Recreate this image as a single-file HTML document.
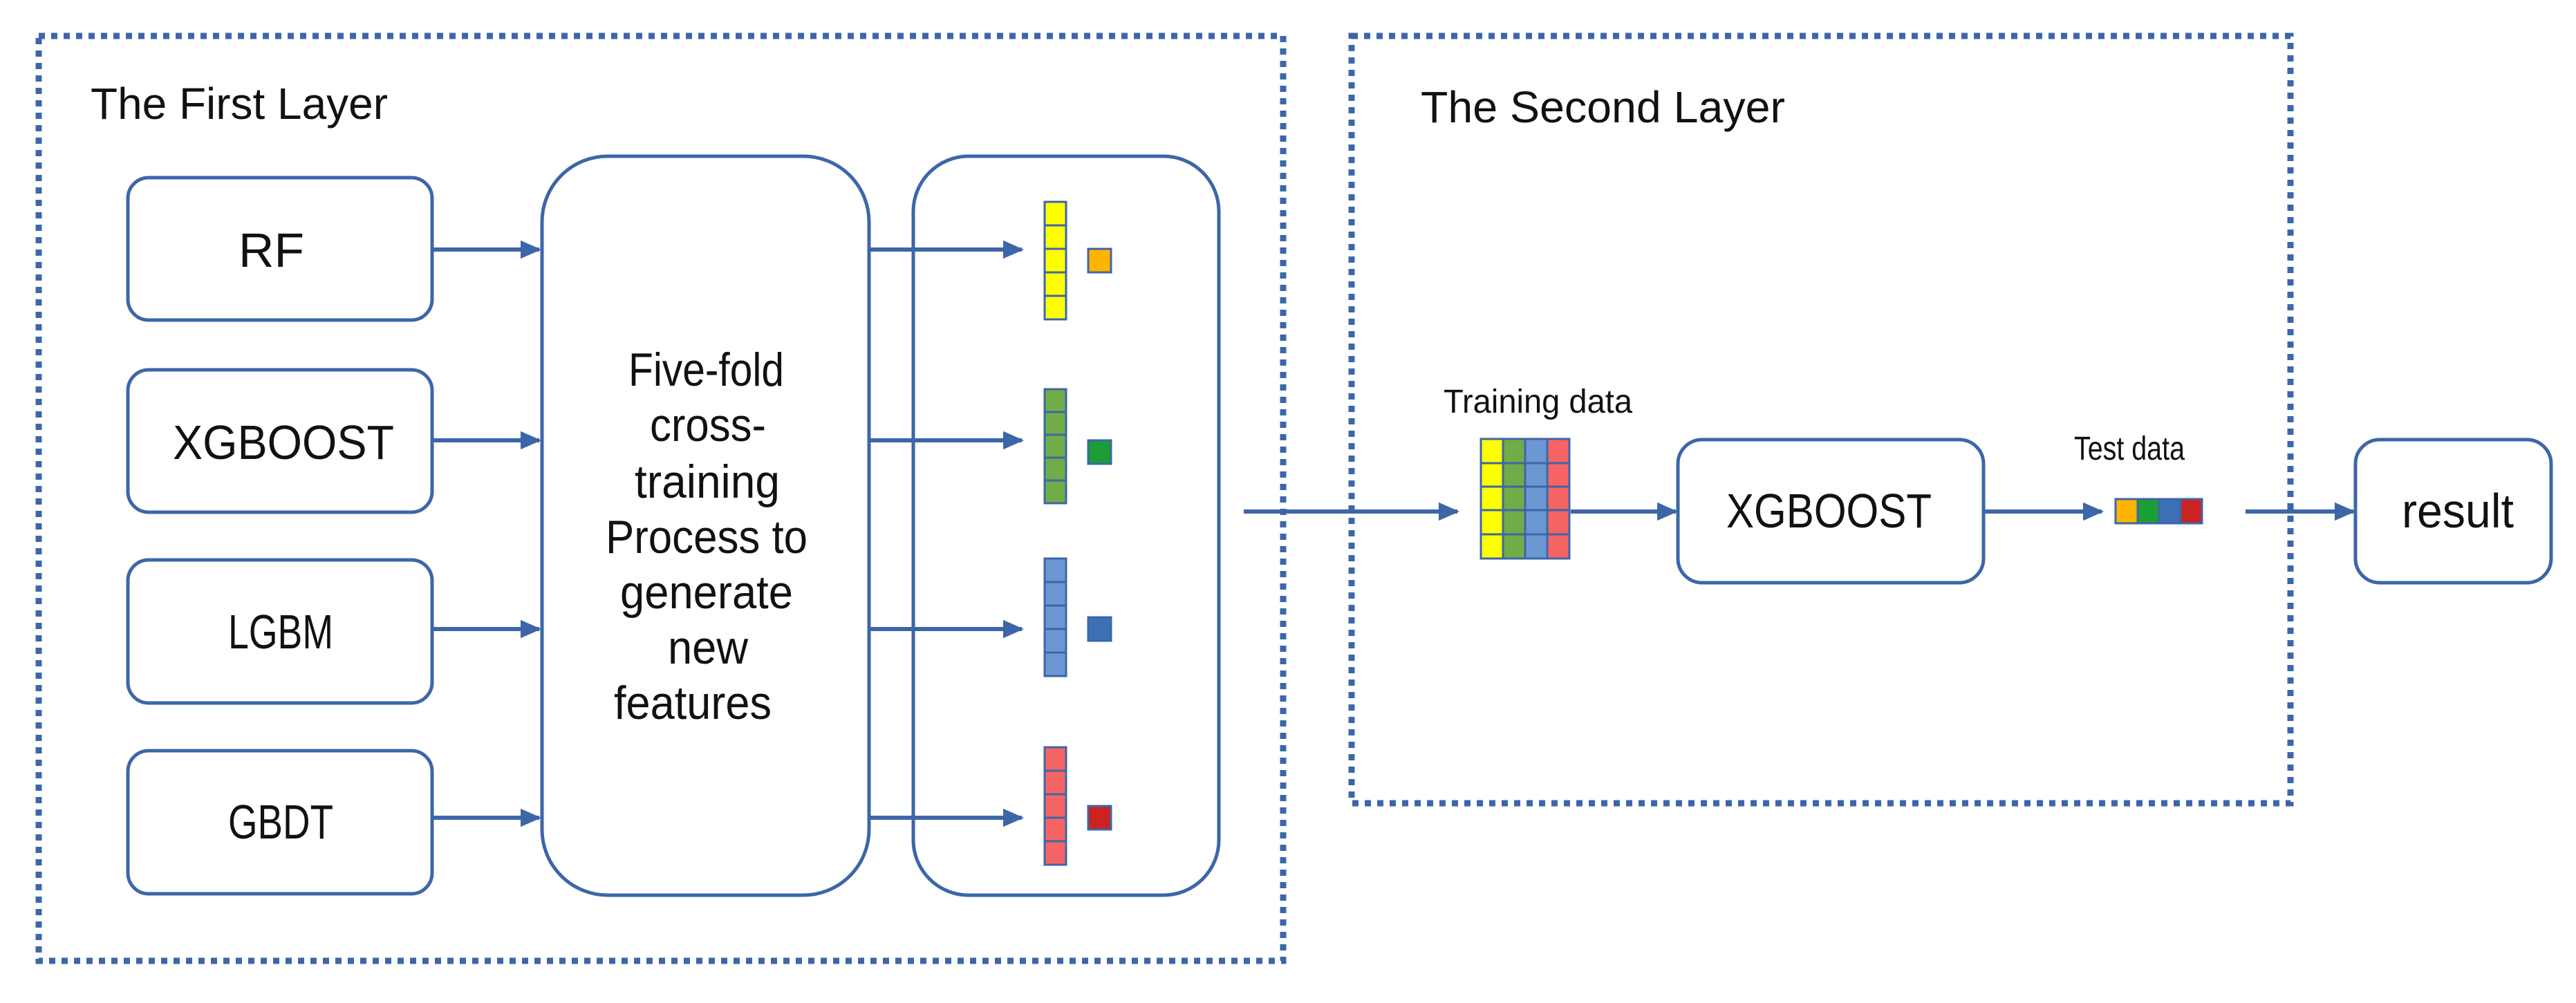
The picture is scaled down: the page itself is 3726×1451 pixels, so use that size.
<!DOCTYPE html>
<html><head><meta charset="utf-8"><style>
html,body{margin:0;padding:0;background:#fff;}
svg{display:block;}
text{font-family:"Liberation Sans",sans-serif;fill:#111;}
</style></head><body>
<svg width="3726" height="1451" viewBox="0 0 3726 1451" xmlns="http://www.w3.org/2000/svg">
<defs>
<marker id="ah" viewBox="0 0 10 10" refX="9" refY="5" markerWidth="5" markerHeight="4.4" orient="auto" markerUnits="strokeWidth" preserveAspectRatio="none">
<path d="M0,0 L10,5 L0,10 z" fill="#3d66a8"/>
</marker>
</defs>
<g fill="none" stroke="#3d66a8" stroke-width="9" stroke-dasharray="9 9">
<rect x="56" y="52" width="1800" height="1338"/>
<rect x="1955" y="52" width="1358" height="1110"/>
</g>
<text x="131" y="172" font-size="64" textLength="430" lengthAdjust="spacingAndGlyphs">The First Layer</text>
<text x="2055" y="177" font-size="64" textLength="527" lengthAdjust="spacingAndGlyphs">The Second Layer</text>
<g fill="#fff" stroke="#3d66a8" stroke-width="5">
<rect x="185" y="257" width="440" height="206" rx="30"/>
<rect x="185" y="535" width="440" height="206" rx="30"/>
<rect x="185" y="810" width="440" height="207" rx="30"/>
<rect x="185" y="1086" width="440" height="207" rx="30"/>
<rect x="784" y="226" width="473" height="1069" rx="95"/>
<rect x="1321" y="226" width="442" height="1069" rx="80"/>
<rect x="2427" y="636" width="442" height="207" rx="35"/>
<rect x="3407" y="636" width="283" height="207" rx="35"/>
</g>
<g font-size="70" lengthAdjust="spacingAndGlyphs">
<text x="345" y="386" textLength="95" lengthAdjust="spacingAndGlyphs">RF</text>
<text x="250" y="664" textLength="320" lengthAdjust="spacingAndGlyphs">XGBOOST</text>
<text x="330" y="938" textLength="152" lengthAdjust="spacingAndGlyphs">LGBM</text>
<text x="330" y="1213" textLength="152" lengthAdjust="spacingAndGlyphs">GBDT</text>
<text x="2497" y="763" textLength="297" lengthAdjust="spacingAndGlyphs">XGBOOST</text>
<text x="3474" y="763" textLength="162" lengthAdjust="spacingAndGlyphs">result</text>
</g>
<g font-size="68">
<text x="909" y="558" textLength="225" lengthAdjust="spacingAndGlyphs">Five-fold</text>
<text x="940" y="638" textLength="168" lengthAdjust="spacingAndGlyphs">cross-</text>
<text x="918" y="720" textLength="210" lengthAdjust="spacingAndGlyphs">training</text>
<text x="876" y="800" textLength="292" lengthAdjust="spacingAndGlyphs">Process to</text>
<text x="897" y="880" textLength="250" lengthAdjust="spacingAndGlyphs">generate</text>
<text x="966" y="960" textLength="116" lengthAdjust="spacingAndGlyphs">new</text>
<text x="888" y="1040" textLength="228" lengthAdjust="spacingAndGlyphs">features</text>
</g>
<text x="2088" y="597" font-size="48" textLength="273" lengthAdjust="spacingAndGlyphs">Training data</text>
<text x="3000" y="665" font-size="48" textLength="160" lengthAdjust="spacingAndGlyphs">Test data</text>
<g stroke="#3d66a8" stroke-width="6" marker-end="url(#ah)">
<line x1="625" y1="361" x2="780" y2="361"/>
<line x1="625" y1="637" x2="780" y2="637"/>
<line x1="625" y1="910" x2="780" y2="910"/>
<line x1="625" y1="1183" x2="780" y2="1183"/>
<line x1="1257" y1="361" x2="1478" y2="361"/>
<line x1="1257" y1="637" x2="1478" y2="637"/>
<line x1="1257" y1="910" x2="1478" y2="910"/>
<line x1="1257" y1="1183" x2="1478" y2="1183"/>
<line x1="1799" y1="740" x2="2108" y2="740"/>
<line x1="2272" y1="740" x2="2424" y2="740"/>
<line x1="2869" y1="740" x2="3040" y2="740"/>
<line x1="3248" y1="740" x2="3404" y2="740"/>
</g>
<g stroke="#3d66a8" stroke-width="3">
<g fill="#ffff00"><rect x="1511" y="292" width="31" height="34"/><rect x="1511" y="326" width="31" height="34"/><rect x="1511" y="360" width="31" height="34"/><rect x="1511" y="394" width="31" height="34"/><rect x="1511" y="428" width="31" height="34"/></g>
<g fill="#70ad47"><rect x="1511" y="563" width="31" height="33"/><rect x="1511" y="596" width="31" height="33"/><rect x="1511" y="629" width="31" height="33"/><rect x="1511" y="662" width="31" height="33"/><rect x="1511" y="695" width="31" height="33"/></g>
<g fill="#6b97d2"><rect x="1511" y="808" width="31" height="34"/><rect x="1511" y="842" width="31" height="34"/><rect x="1511" y="876" width="31" height="34"/><rect x="1511" y="910" width="31" height="34"/><rect x="1511" y="944" width="31" height="34"/></g>
<g fill="#f56464"><rect x="1511" y="1081" width="31" height="34"/><rect x="1511" y="1115" width="31" height="34"/><rect x="1511" y="1149" width="31" height="34"/><rect x="1511" y="1183" width="31" height="34"/><rect x="1511" y="1217" width="31" height="34"/></g>
<rect x="1574" y="360" width="33" height="34" fill="#ffb400"/>
<rect x="1574" y="637" width="33" height="34" fill="#1a9e35"/>
<rect x="1574" y="893" width="33" height="34" fill="#3d6fb5"/>
<rect x="1574" y="1166" width="33" height="34" fill="#cc2222"/>
<g fill="#ffff00"><rect x="2142" y="635" width="32" height="35"/><rect x="2142" y="670" width="32" height="34"/><rect x="2142" y="704" width="32" height="34"/><rect x="2142" y="738" width="32" height="35"/><rect x="2142" y="773" width="32" height="35"/></g>
<g fill="#70ad47"><rect x="2174" y="635" width="32" height="35"/><rect x="2174" y="670" width="32" height="34"/><rect x="2174" y="704" width="32" height="34"/><rect x="2174" y="738" width="32" height="35"/><rect x="2174" y="773" width="32" height="35"/></g>
<g fill="#6b97d2"><rect x="2206" y="635" width="32" height="35"/><rect x="2206" y="670" width="32" height="34"/><rect x="2206" y="704" width="32" height="34"/><rect x="2206" y="738" width="32" height="35"/><rect x="2206" y="773" width="32" height="35"/></g>
<g fill="#f56464"><rect x="2238" y="635" width="32" height="35"/><rect x="2238" y="670" width="32" height="34"/><rect x="2238" y="704" width="32" height="34"/><rect x="2238" y="738" width="32" height="35"/><rect x="2238" y="773" width="32" height="35"/></g>
<rect x="3060" y="722" width="32" height="35" fill="#ffb400"/>
<rect x="3092" y="722" width="31" height="35" fill="#1a9e35"/>
<rect x="3123" y="722" width="31" height="35" fill="#3d6fb5"/>
<rect x="3154" y="722" width="31" height="35" fill="#cc2222"/>
</g>
</svg>
</body></html>
